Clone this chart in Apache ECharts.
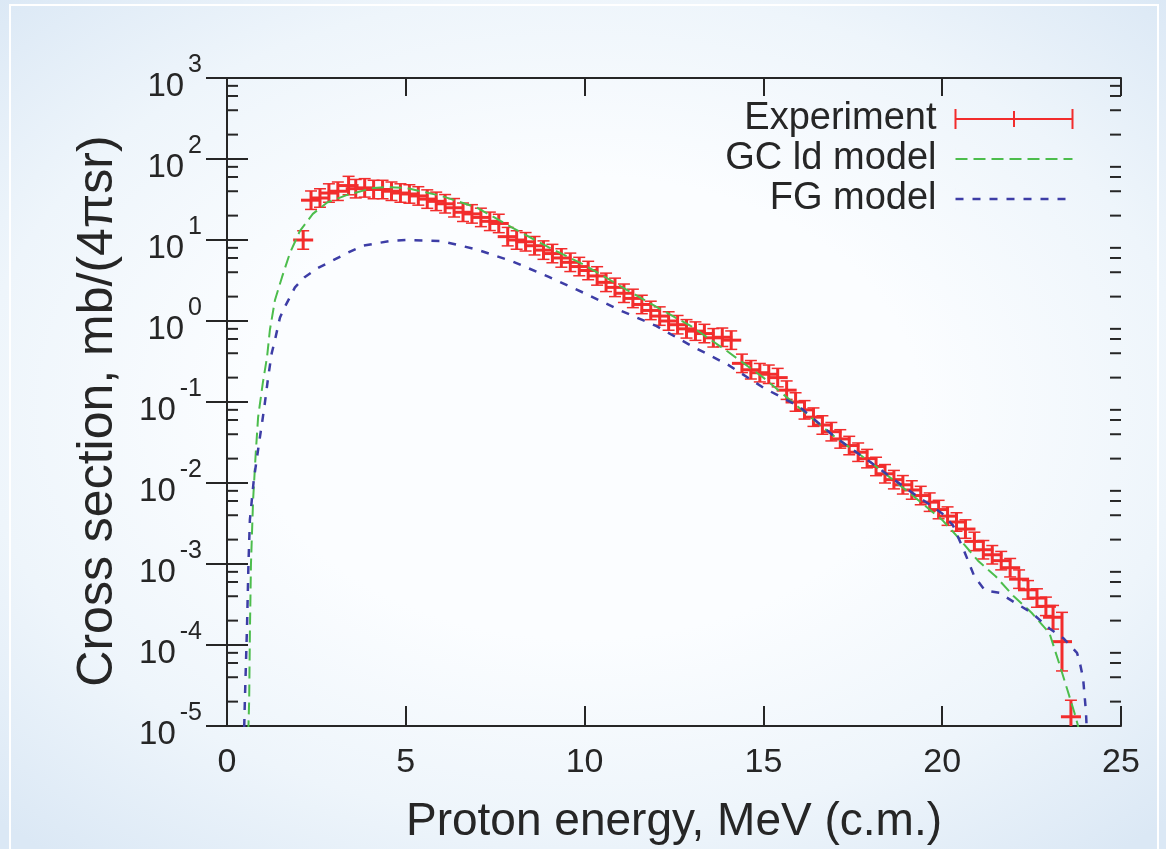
<!DOCTYPE html>
<html>
<head>
<meta charset="utf-8">
<script src="https://cdn.jsdelivr.net/npm/echarts@6/dist/echarts.min.js"></script>
<style>
  html, body { margin: 0; padding: 0; }
  body {
    width: 1166px; height: 849px; overflow: hidden; position: relative;
    background: radial-gradient(ellipse 72% 68% at 50% 48%, #fbfdff 40%, #eef5fb 72%, #dbe8f5 100%);
  }
  #frame { position: absolute; left: 9px; top: 4px; right: 7px; bottom: -10px; border: 2px solid #ffffff; }
  #chart { position: absolute; left: 0; top: 0; width: 1166px; height: 849px; }
</style>
</head>
<body>
<div id="frame"></div>
<div id="chart"></div>
<script>
// Experimental points (energy MeV, cross section, relative error)
const expEnergy = [
  2.13, 2.35, 2.6, 2.85, 3.1, 3.4, 3.6, 3.85, 4.1, 4.35, 4.6, 4.85, 5.1, 5.35, 5.6, 5.85,
  6.1, 6.35, 6.6, 6.85, 7.1, 7.35, 7.6, 7.85, 8.1, 8.35, 8.6, 8.85, 9.1, 9.35, 9.6, 9.85,
  10.1, 10.35, 10.6, 10.85, 11.1, 11.35, 11.6, 11.85, 12.1, 12.35, 12.6, 12.85, 13.1, 13.35,
  13.6, 13.85, 14.1, 14.4, 14.65, 14.9, 15.15, 15.4, 15.65, 15.9, 16.15, 16.4, 16.65, 16.9,
  17.15, 17.4, 17.65, 17.9, 18.15, 18.4, 18.65, 18.9, 19.15, 19.4, 19.65, 19.9, 20.15, 20.4,
  20.65, 20.9, 21.15, 21.4, 21.65, 21.9, 22.15, 22.4, 22.65, 22.9, 23.1, 23.35, 23.6
];
const expSigma = [
  10, 31, 33, 38, 40, 47, 43, 44, 42, 42, 40, 38, 37, 35, 32, 30,
  28, 25, 22, 21, 19, 17, 16, 11, 10, 9.5, 8.5, 7.5, 6.8, 6.0, 5.3, 4.7,
  4.2, 3.6, 3.0, 2.6, 2.2, 1.9, 1.6, 1.35, 1.15, 1.0, 0.9, 0.8, 0.75, 0.7,
  0.62, 0.63, 0.58, 0.30, 0.25, 0.23, 0.22, 0.20, 0.14, 0.10, 0.08, 0.065, 0.052, 0.043,
  0.035, 0.029, 0.024, 0.020, 0.016, 0.013, 0.011, 0.0095, 0.0082, 0.0070, 0.0058, 0.0047, 0.0039, 0.0033,
  0.0027, 0.0019, 0.0015, 0.0013, 0.0011, 0.0009, 0.00065, 0.00048, 0.00038, 0.00030, 0.00022, 0.00011, 0.000013
];
const expRelErr = [
  0.3, 0.3, 0.3, 0.3, 0.3, 0.3, 0.3, 0.3, 0.3, 0.3, 0.3, 0.3, 0.3, 0.3, 0.3, 0.3,
  0.3, 0.3, 0.3, 0.3, 0.3, 0.3, 0.3, 0.3, 0.3, 0.3, 0.3, 0.3, 0.3, 0.3, 0.3, 0.3,
  0.3, 0.3, 0.3, 0.3, 0.3, 0.3, 0.3, 0.3, 0.3, 0.3, 0.3, 0.3, 0.3, 0.3,
  0.3, 0.3, 0.3, 0.3, 0.3, 0.3, 0.3, 0.3, 0.3, 0.3, 0.3, 0.3, 0.3, 0.3,
  0.3, 0.3, 0.3, 0.3, 0.3, 0.3, 0.3, 0.3, 0.3, 0.3, 0.3, 0.3, 0.3, 0.3,
  0.3, 0.3, 0.3, 0.3, 0.3, 0.3, 0.3, 0.3, 0.3, 0.3, 0.4, 1.3, 0.6
];
const expEnergyErr = 0.28;

// GC ld model
const gcEnergy = [
  0.58, 0.6, 0.62, 0.64, 0.67, 0.73, 0.8, 0.87, 1.0, 1.12, 1.2, 1.34, 1.54, 1.76, 2.04, 2.4,
  2.8, 3.36, 4.1, 4.5, 5, 6, 7, 8, 9, 10, 11, 12, 13, 14, 15, 16, 17, 18, 19, 20, 20.5, 21,
  21.5, 22, 22.5, 23, 23.3, 23.5, 23.7, 23.8, 23.85
];
const gcSigma = [
  5e-6, 1e-5, 2.1e-5, 1.4e-4, 1e-3, 6.2e-3, 0.022, 0.065, 0.17, 0.36, 0.78, 1.8, 3.5, 6.9, 13, 21,
  29, 36, 44, 45, 44, 35, 25, 14, 8.1, 4.9, 2.7, 1.5, 0.85, 0.42, 0.2, 0.085, 0.037, 0.018, 0.0081, 0.0035, 0.002, 0.0011,
  7e-4, 4e-4, 2.5e-4, 1.4e-4, 5.4e-5, 2.8e-5, 1.45e-5, 1e-5, 7e-6
];

// FG model
const fgEnergy = [
  0.47, 0.5, 0.56, 0.6, 0.64, 0.75, 0.9, 0.98, 1.06, 1.15, 1.25, 1.34, 1.48, 1.62, 1.9, 2.18,
  2.54, 2.96, 3.36, 3.8, 4.6, 5, 6, 7, 8, 9, 10, 11, 12, 13, 14, 15, 16, 17, 18, 19, 19.5, 20,
  20.3, 20.6, 20.9, 21.2, 21.6, 22, 22.5, 23, 23.4, 23.77, 23.85, 23.94, 24.02, 24.06
];
const fgSigma = [
  6e-6, 2.1e-5, 1.7e-4, 1e-3, 3.5e-3, 0.011, 0.032, 0.055, 0.098, 0.2, 0.4, 0.58, 1.1, 1.5, 2.6, 3.5,
  4.5, 5.6, 6.9, 8.5, 9.8, 10, 9.7, 7.6, 5.4, 3.5, 2.2, 1.35, 0.87, 0.49, 0.29, 0.15, 0.088, 0.037, 0.018, 0.0085, 0.006, 0.0042,
  0.003, 0.0015, 7e-4, 4.7e-4, 4.4e-4, 3.4e-4, 2.5e-4, 1.6e-4, 1.2e-4, 8e-5, 6e-5, 3.9e-5, 1.5e-5, 6e-6
];

// axes
const xTicks = [0, 5, 10, 15, 20, 25];
const yDecades = [-5, -4, -3, -2, -1, 0, 1, 2, 3];
const minorMultipliers = [2, 4, 6, 8];

const FONT = "'Liberation Sans', Arial, sans-serif";
const INK = "#262626";
const RED = "#f22c2c";
const GREEN = "#4cbd4c";
const BLUE = "#3d3da6";
const X_MIN = xTicks[0], X_MAX = xTicks[xTicks.length - 1];
const Y_MIN = Math.pow(10, yDecades[0]), Y_MAX = Math.pow(10, yDecades[yDecades.length - 1]);

const expData = expEnergy.map((e, i) => [
  e, expSigma[i], expSigma[i] / (1 + expRelErr[i]), expSigma[i] * (1 + expRelErr[i])
]);
const minorData = [];
yDecades.slice(0, -1).forEach((d) => {
  minorMultipliers.forEach((m) => minorData.push([X_MIN, m * Math.pow(10, d)]));
});

const chart = echarts.init(document.getElementById("chart"));

const axisLineStyle = { color: INK, width: 2 };
// legend icons: thin bbox markers at y=0 and y=20 keep a 117x20 box
const lineIcon = "path://M0,0L0.01,0M0,10L117,10M0,20L0.01,20";

const option = {
  animation: false,
  backgroundColor: "transparent",
  textStyle: { fontFamily: FONT, color: INK },
  grid: { left: 227, top: 78, right: 45, bottom: 123, containLabel: false, outerBoundsMode: "none" },
  legend: {
    orient: "vertical",
    align: "right",
    right: 91,
    top: 100,
    padding: 0,
    itemWidth: 117,
    itemHeight: 20,
    itemGap: 2,
    selectedMode: false,
    textStyle: { fontSize: 38, color: INK, padding: [0, 14, 0, 0] },
    data: [
      {
        name: "Experiment",
        icon: "path://M0,10L117,10M0,0L0,20M58.5,2L58.5,18M117,0L117,20",
        itemStyle: { color: "none", borderColor: RED, borderWidth: 2 },
      },
      {
        name: "GC ld model",
        icon: lineIcon,
        itemStyle: { color: "none", borderColor: GREEN, borderWidth: 2, borderType: [12, 6] },
      },
      {
        name: "FG model",
        icon: lineIcon,
        itemStyle: { color: "none", borderColor: BLUE, borderWidth: 2.5, borderType: [8, 9] },
      },
    ],
  },
  xAxis: [
    {
      type: "value",
      min: X_MIN,
      max: X_MAX,
      interval: 5,
      position: "bottom",
      axisLine: { onZero: false, lineStyle: axisLineStyle },
      axisTick: { inside: true, length: 20, lineStyle: axisLineStyle },
      axisLabel: { fontSize: 34, color: INK, margin: 20 },
      splitLine: { show: false },
      name: "Proton energy, MeV (c.m.)",
      nameLocation: "middle",
      nameGap: 73,
      nameTextStyle: { fontSize: 46, color: INK },
    },
    {
      type: "value",
      min: X_MIN,
      max: X_MAX,
      interval: 5,
      position: "top",
      axisLine: { onZero: false, lineStyle: axisLineStyle },
      axisTick: { inside: true, length: 18, lineStyle: axisLineStyle },
      axisLabel: { show: false },
      splitLine: { show: false },
    },
  ],
  yAxis: [
    {
      type: "log",
      logBase: 10,
      min: Y_MIN,
      max: Y_MAX,
      position: "left",
      axisLine: { lineStyle: axisLineStyle },
      axisTick: { inside: true, length: 21, lineStyle: axisLineStyle },
      axisLabel: {
        margin: 25,
        formatter: (v) => "{b|10}{s|" + Math.round(Math.log10(v)) + "}",
        rich: {
          b: { fontSize: 33, lineHeight: 50, verticalAlign: "bottom", color: INK, fontFamily: FONT },
          s: { fontSize: 25, lineHeight: 20, verticalAlign: "top", color: INK, fontFamily: FONT, padding: [0, 0, 0, 4] },
        },
      },
      splitLine: { show: false },
      name: "Cross section, mb/(4\u03c0sr)",
      nameLocation: "middle",
      nameGap: 104,
      nameTextStyle: { fontSize: 50, color: INK, padding: [0, 18, 0, 0] },
    },
    {
      type: "log",
      logBase: 10,
      min: Y_MIN,
      max: Y_MAX,
      position: "right",
      axisLine: { lineStyle: axisLineStyle },
      axisTick: { inside: true, length: 21, lineStyle: axisLineStyle },
      axisLabel: { show: false },
      splitLine: { show: false },
    },
  ],
  series: [
    {
      name: "Experiment",
      type: "custom",
      z: 2,
      clip: true,
      encode: { x: 0, y: 1 },
      data: expData,
      renderItem: (params, api) => {
        const x = api.value(0), y = api.value(1), lo = api.value(2), hi = api.value(3);
        const pl = api.coord([x - expEnergyErr, y]);
        const pr = api.coord([x + expEnergyErr, y]);
        const pt = api.coord([x, hi]);
        const pb = api.coord([x, lo]);
        const style = { stroke: RED, lineWidth: 3 };
        const capStyle = { stroke: RED, lineWidth: 1.5 };
        const cap = 6;
        return {
          type: "group",
          children: [
            { type: "line", shape: { x1: pl[0], y1: pl[1], x2: pr[0], y2: pr[1] }, style },
            { type: "line", shape: { x1: pt[0], y1: pt[1], x2: pb[0], y2: pb[1] }, style },
            { type: "line", shape: { x1: pt[0] - cap, y1: pt[1], x2: pt[0] + cap, y2: pt[1] }, style: capStyle },
            { type: "line", shape: { x1: pb[0] - cap, y1: pb[1], x2: pb[0] + cap, y2: pb[1] }, style: capStyle },
          ],
        };
      },
    },
    {
      name: "GC ld model",
      type: "line",
      z: 3,
      symbol: "none",
      data: gcEnergy.map((e, i) => [e, gcSigma[i]]),
      lineStyle: { color: GREEN, width: 2, type: [12, 6] },
      itemStyle: { color: GREEN },
    },
    {
      name: "FG model",
      type: "line",
      z: 3,
      symbol: "none",
      data: fgEnergy.map((e, i) => [e, fgSigma[i]]),
      lineStyle: { color: BLUE, width: 2.5, type: [8, 9] },
      itemStyle: { color: BLUE },
    },
    {
      // log minor ticks (2, 4, 6, 8) on left and right frame
      type: "custom",
      silent: true,
      z: 4,
      encode: { x: 0, y: 1 },
      data: minorData,
      renderItem: (params, api) => {
        const v = api.value(1);
        const l = api.coord([X_MIN, v]);
        const r = api.coord([X_MAX, v]);
        const style = { stroke: INK, lineWidth: 2 };
        return {
          type: "group",
          children: [
            { type: "line", shape: { x1: l[0], y1: l[1], x2: l[0] + 11, y2: l[1] }, style },
            { type: "line", shape: { x1: r[0] - 11, y1: r[1], x2: r[0], y2: r[1] }, style },
          ],
        };
      },
    },
  ],
};

chart.setOption(option);
</script>
</body>
</html>
